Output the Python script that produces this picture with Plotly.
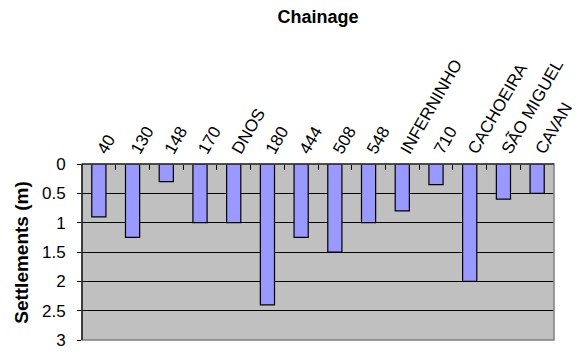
import plotly.graph_objects as go

# Settlement measured at each chainage / site
chainage = ["40", "130", "148", "170", "DNOS", "180", "444", "508", "548",
            "INFERNINHO", "710", "CACHOEIRA", "SÃO MIGUEL", "CAVAN"]
settlement_m = [0.9, 1.25, 0.3, 1.0, 1.0, 2.4, 1.25, 1.5, 1.0,
                0.8, 0.35, 2.0, 0.6, 0.5]
y_ticks = [0, 0.5, 1, 1.5, 2, 2.5, 3]
y_tick_text = ["0", "0.5", "1", "1.5", "2", "2.5", "3"]

FONT = "Arial, Liberation Sans, sans-serif"
W, H = 584, 358
ML, MR, MT, MB = 82, 24, 164, 8
PLOT_W = W - ML - MR

fig = go.Figure(
    go.Bar(
        x=chainage,
        y=settlement_m,
        width=0.42,
        marker=dict(color="#9999FF", line=dict(color="#000000", width=1.2)),
    )
)

fig.update_layout(
    width=W,
    height=H,
    margin=dict(l=ML, r=MR, t=MT, b=MB),
    paper_bgcolor="white",
    plot_bgcolor="#C0C0C0",
    showlegend=False,
    font=dict(family=FONT, color="black"),
    title=dict(
        text="<b>Chainage</b>",
        font=dict(size=18, family=FONT, color="black"),
        x=0.5, xref="paper", xanchor="center",
        y=1 - 17 / H, yref="container", yanchor="middle",
    ),
    annotations=[
        dict(text="<b>Settlements (m)</b>", textangle=-90,
             xref="paper", yref="paper", x=(20 - ML) / PLOT_W, y=0.5,
             xanchor="center", yanchor="middle", showarrow=False,
             font=dict(size=19, family=FONT, color="black")),
    ],
    shapes=[
        # plot-area frame (grey right and bottom edges)
        dict(type="rect", xref="paper", yref="paper", x0=0, x1=1, y0=0, y1=1,
             line=dict(color="#808080", width=1.5), layer="above"),
        # dark top and left axis lines
        dict(type="line", xref="paper", yref="paper", x0=0, x1=1, y0=1, y1=1,
             line=dict(color="#000000", width=1.2), layer="above"),
        dict(type="line", xref="paper", yref="paper", x0=0, x1=0, y0=0, y1=1,
             line=dict(color="#000000", width=1.2), layer="above"),
    ],
)

fig.update_xaxes(
    side="top",
    type="category",
    tickangle=-60,
    tickson="boundaries",
    ticks="inside",
    ticklen=6,
    tickcolor="black",
    tickwidth=1,
    tickfont=dict(size=17, family=FONT, color="black"),
    ticklabeloverflow="allow",
    showgrid=False,
    showline=False,
    zeroline=False,
)

fig.update_yaxes(
    range=[3, 0],
    tickvals=y_ticks,
    ticktext=y_tick_text,
    ticks="outside",
    ticklen=4,
    tickcolor="black",
    tickfont=dict(size=17, family=FONT, color="black"),
    ticklabelstandoff=8,
    ticklabeloverflow="allow",
    showgrid=True,
    gridcolor="#000000",
    gridwidth=1,
    zeroline=False,
    showline=False,
)

fig.write_html("out.html")
